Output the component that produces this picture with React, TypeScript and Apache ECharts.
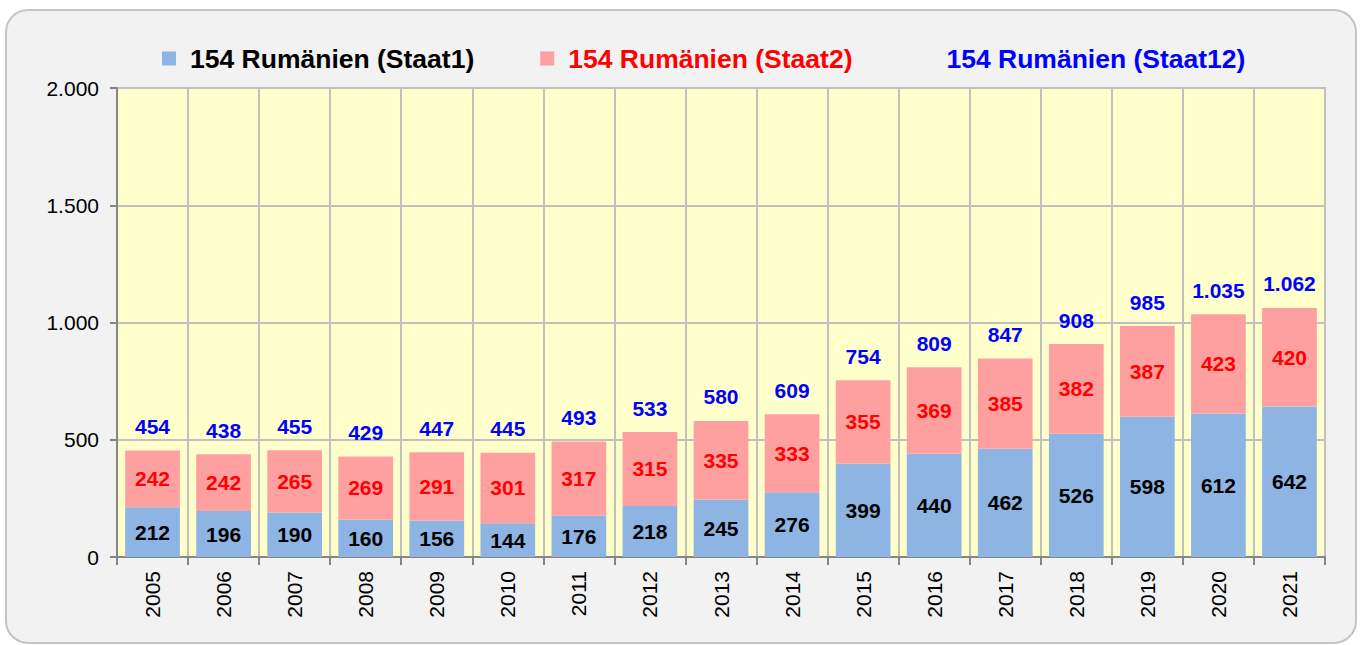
import React, { useEffect, useRef } from "react";
import * as echarts from "echarts";

const years = ["2005","2006","2007","2008","2009","2010","2011","2012","2013","2014","2015","2016","2017","2018","2019","2020","2021"];
const staat1 = [212,196,190,160,156,144,176,218,245,276,399,440,462,526,598,612,642];
const staat2 = [242,242,265,269,291,301,317,315,335,333,355,369,385,382,387,423,420];
const staat12 = [454,438,455,429,447,445,493,533,580,609,754,809,847,908,985,1035,1062];

const name1 = "154 Rumänien (Staat1)";
const name2 = "154 Rumänien (Staat2)";
const name12 = "154 Rumänien (Staat12)";

const fmt = (v: number) => String(Math.round(v)).replace(/\B(?=(\d{3})+(?!\d))/g, ".");

const FONT = "Liberation Sans, Arial, sans-serif";

export default function App() {
  const ref = useRef<HTMLDivElement>(null);
  useEffect(() => {
    document.body.style.margin = "0";
    const chart = echarts.init(ref.current!, null, { renderer: "svg" });
    chart.setOption({
      animation: false,
      backgroundColor: "#ffffff",
      textStyle: { fontFamily: FONT },
      graphic: [
        {
          type: "rect",
          shape: { x: 6, y: 10, width: 1350, height: 633, r: 22 },
          style: { fill: "#f2f2f2", stroke: "#c4c4c4", lineWidth: 2 },
          z: -10,
          silent: true,
        },
      ],
      legend: {
        left: 162,
        top: 45,
        padding: 0,
        itemWidth: 14,
        itemHeight: 14,
        itemGap: 66,
        textStyle: { fontSize: 26.5, fontWeight: "bold", fontFamily: FONT, padding: [0, 0, 0, 9] },
        data: [
          { name: name1, icon: "rect", textStyle: { color: "#000000" } },
          { name: name2, icon: "rect", textStyle: { color: "#ff0000" } },
          { name: name12, icon: "rect", itemStyle: { opacity: 0 }, textStyle: { color: "#0000ff" } },
        ],
      },
      grid: {
        left: 117,
        right: 36,
        top: 88,
        bottom: 88,
        show: true,
        backgroundColor: "#ffffcc",
        borderColor: "#c0c0c0",
        borderWidth: 2,
      },
      xAxis: {
        type: "category",
        data: years,
        boundaryGap: true,
        axisLine: { show: true, lineStyle: { color: "#868686", width: 2 } },
        axisTick: { show: true, length: 8, lineStyle: { color: "#868686", width: 2 } },
        splitLine: { show: true, lineStyle: { color: "#c0c0c0", width: 2 } },
        axisLabel: { rotate: 90, fontSize: 21, color: "#000", margin: 14, fontFamily: FONT },
      },
      yAxis: {
        type: "value",
        min: 0,
        max: 2000,
        interval: 500,
        axisLine: { show: true, lineStyle: { color: "#868686", width: 2 } },
        axisTick: { show: true, length: 7, lineStyle: { color: "#868686", width: 2 } },
        splitLine: { show: true, lineStyle: { color: "#c0c0c0", width: 2 } },
        axisLabel: { fontSize: 21, color: "#000", margin: 18, formatter: (v: number) => fmt(v), fontFamily: FONT },
      },
      series: [
        {
          name: name1,
          type: "bar",
          stack: "s",
          data: staat1,
          barWidth: "77%",
          itemStyle: { color: "#8eb4e3" },
          label: {
            show: true,
            position: "inside",
            color: "#000",
            fontSize: 21,
            fontWeight: "bold",
            fontFamily: FONT,
            formatter: (p: any) => fmt(p.value),
          },
        },
        {
          name: name2,
          type: "bar",
          stack: "s",
          data: staat2,
          barWidth: "77%",
          itemStyle: { color: "#ffa0a0" },
          label: {
            show: true,
            position: "inside",
            color: "#ff0000",
            fontSize: 21,
            fontWeight: "bold",
            fontFamily: FONT,
            formatter: (p: any) => fmt(p.value),
          },
        },
        {
          name: name12,
          type: "line",
          data: staat12,
          symbol: "circle",
          symbolSize: 1,
          itemStyle: { color: "rgba(0,0,0,0)" },
          lineStyle: { width: 0, opacity: 0 },
          z: 5,
          label: {
            show: true,
            position: "top",
            distance: 13,
            color: "#0000ff",
            fontSize: 21,
            fontWeight: "bold",
            fontFamily: FONT,
            formatter: (p: any) => fmt(p.value),
          },
        },
      ],
    });
    return () => chart.dispose();
  }, []);
  return <div ref={ref} style={{ width: 1361, height: 645 }} />;
}
